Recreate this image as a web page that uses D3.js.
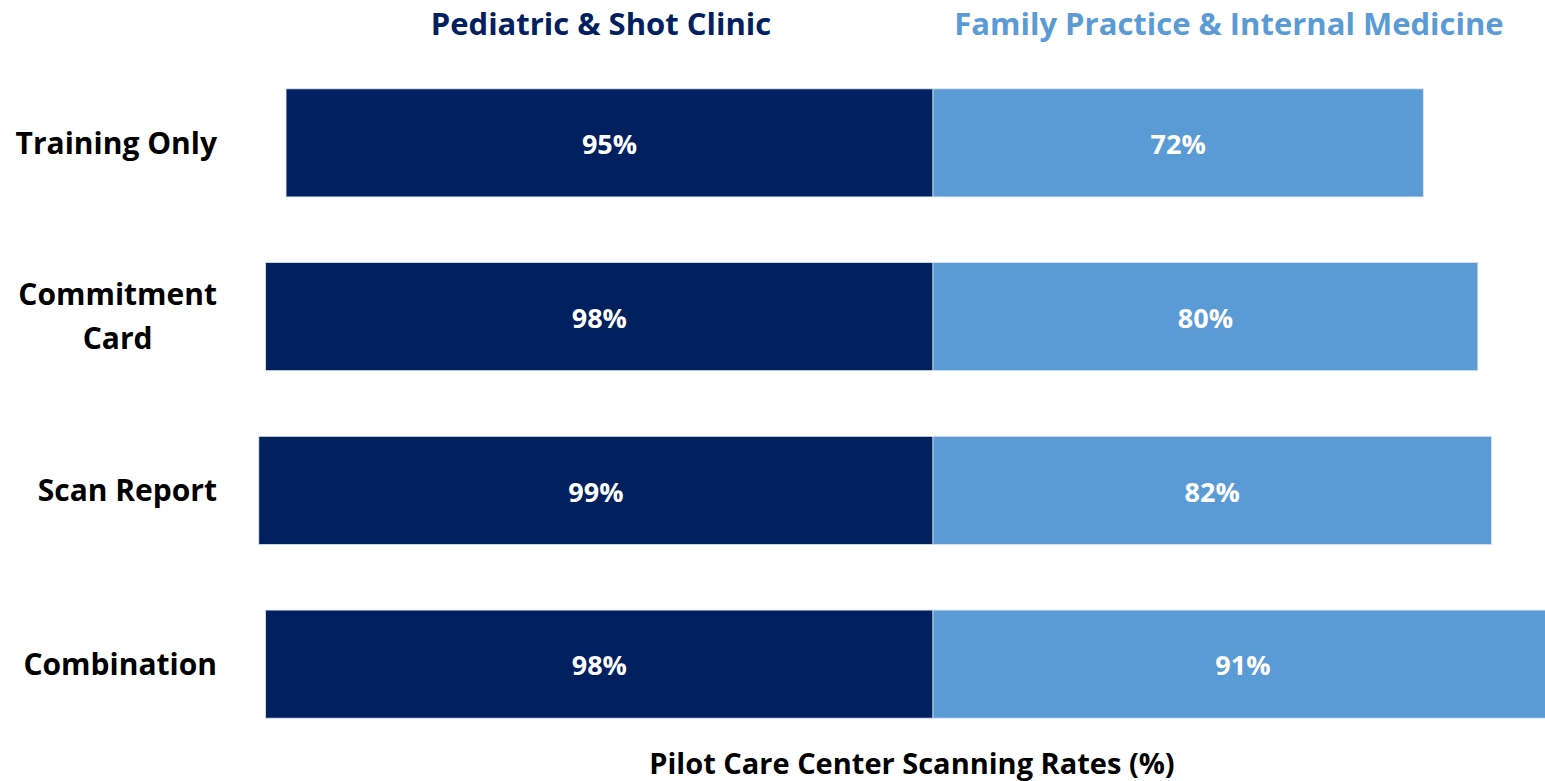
<!DOCTYPE html>
<html>
<head>
<meta charset="utf-8">
<script src="https://cdn.jsdelivr.net/npm/d3@7"></script>
<style>
  html, body { margin: 0; padding: 0; background: #fff; overflow: hidden; }
  svg { display: block; font-family: 'Open Sans', sans-serif; font-weight: 700; }
</style>
</head>
<body>
<div id="chart"></div>
<script>
// Pilot care center scanning rates, two clinics side by side
const categories = ['Training Only', 'Commitment Card', 'Scan Report', 'Combination'];
const labelLines = [['Training Only'], ['Commitment', 'Card'], ['Scan Report'], ['Combination']];
const seriesNames = ['Pediatric & Shot Clinic', 'Family Practice & Internal Medicine'];
const pediatric = [95, 98, 99, 98];
const familyPractice = [72, 80, 82, 91];
const axisTitle = 'Pilot Care Center Scanning Rates (%)';

const width = 1545;
const height = 781;
const centerX = 933;
const darkBlue = '#002060';
const lightBlue = '#5b9bd5';

const svg = d3
  .select('#chart')
  .append('svg')
  .attr('width', width)
  .attr('height', height);

const x = d3.scaleLinear().domain([0, 100]).range([0, 681]);
const y = d3
  .scaleBand()
  .domain(categories)
  .range([56, 751])
  .paddingInner(0.378)
  .paddingOuter(0.189);

const rows = categories.map((c, i) => ({
  cat: c,
  lines: labelLines[i],
  left: pediatric[i],
  right: familyPractice[i],
}));

// left (pediatric) bars grow leftwards from the center
svg
  .append('g')
  .selectAll('rect')
  .data(rows)
  .join('rect')
  .attr('x', (d) => centerX - x(d.left))
  .attr('y', (d) => y(d.cat))
  .attr('width', (d) => x(d.left))
  .attr('height', y.bandwidth())
  .attr('fill', darkBlue)
  .attr('stroke', '#d9e2ee')
  .attr('stroke-width', 0.8);

svg
  .append('g')
  .selectAll('rect')
  .data(rows)
  .join('rect')
  .attr('x', centerX)
  .attr('y', (d) => y(d.cat))
  .attr('width', (d) => x(d.right))
  .attr('height', y.bandwidth())
  .attr('fill', lightBlue)
  .attr('stroke', '#d9e2ee')
  .attr('stroke-width', 0.8);

// value labels
const valG = svg.append('g').attr('fill', '#fff').attr('font-size', 27).attr('text-anchor', 'middle');
valG
  .selectAll('text.l')
  .data(rows)
  .join('text')
  .attr('class', 'l')
  .attr('x', (d) => centerX - x(d.left) / 2)
  .attr('y', (d) => y(d.cat) + y.bandwidth() / 2)
  .attr('dy', '0.42em')
  .text((d) => d.left + '%');
valG
  .selectAll('text.r')
  .data(rows)
  .join('text')
  .attr('class', 'r')
  .attr('x', (d) => centerX + x(d.right) / 2)
  .attr('y', (d) => y(d.cat) + y.bandwidth() / 2)
  .attr('dy', '0.42em')
  .text((d) => d.right + '%');

// category labels, right-aligned block, wrapped lines centered in the block
const labelRight = 217;
const lineH = 44;
const catG = svg.append('g').attr('fill', '#000').attr('font-size', 30);
rows.forEach((d) => {
  const g = catG.append('g');
  const cy = y(d.cat) + y.bandwidth() / 2;
  const texts = d.lines.map((line, j) =>
    g
      .append('text')
      .attr('y', cy + (j - (d.lines.length - 1) / 2) * lineH)
      .attr('dy', '0.36em')
      .text(line)
  );
  const w = d3.max(texts, (t) => t.node().getComputedTextLength());
  texts.forEach((t) => t.attr('text-anchor', 'middle').attr('x', labelRight - w / 2));
});

// series titles
svg
  .append('text')
  .attr('x', 601)
  .attr('y', 24)
  .attr('dy', '0.36em')
  .attr('text-anchor', 'middle')
  .attr('font-size', 31)
  .attr('fill', darkBlue)
  .text(seriesNames[0]);
svg
  .append('text')
  .attr('x', 1229)
  .attr('y', 24)
  .attr('dy', '0.36em')
  .attr('text-anchor', 'middle')
  .attr('font-size', 31)
  .attr('fill', lightBlue)
  .text(seriesNames[1]);

svg
  .append('text')
  .attr('x', 912)
  .attr('y', 764)
  .attr('dy', '0.36em')
  .attr('text-anchor', 'middle')
  .attr('font-size', 29)
  .attr('fill', '#000')
  .text(axisTitle);
</script>
</body>
</html>
